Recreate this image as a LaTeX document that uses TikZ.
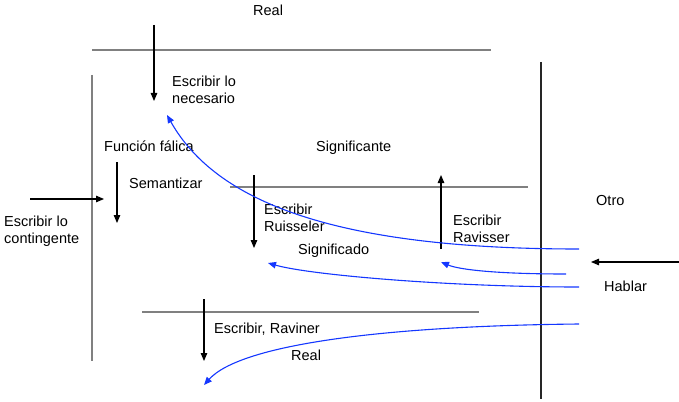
\documentclass[tikz,border=0pt]{standalone}
\usepackage{fontspec}
\setmainfont{Liberation Sans}
\usetikzlibrary{arrows.meta}
\definecolor{rule}{RGB}{128,128,128}
\definecolor{flow}{RGB}{20,55,255}
\tikzset{
  lbl/.style={anchor=base west, inner sep=0pt, font=\fontsize{14.5}{17}\selectfont, align=left},
  barline/.style={draw=rule, line width=1.5pt},
  axis/.style={draw=black!85, line width=1.1pt},
  push/.style={draw=black, line width=1.1pt, -{Triangle[length=8pt,width=6.5pt]}},
  ret/.style={draw=flow, line width=1.1pt, -{Triangle[length=8pt,width=6.5pt]}}
}
\begin{document}
\begin{tikzpicture}[x=1pt,y=-1pt]
\useasboundingbox (0,0) rectangle (679,401);

% labels (two-line labels are placed by the baseline of their last line)
\node[lbl] (realtop) at (253,16) {Real};
\node[lbl] (necesario) at (172,103) {Escribir lo\\necesario};
\node[lbl] (falica) at (104,151) {Función fálica};
\node[lbl] (signante) at (316,151) {Significante};
\node[lbl] (semant) at (129,188) {Semantizar};
\node[lbl] (conting) at (4,243) {Escribir lo\\contingente};
\node[lbl] (ruiss) at (264,231) {Escribir\\Ruisseler};
\node[lbl] (signado) at (298,254) {Significado};
\node[lbl] (raviss) at (453,242) {Escribir\\Ravisser};
\node[lbl] (otro) at (596,205) {Otro};
\node[lbl] (hablar) at (604,291) {Hablar};
\node[lbl] (ravin) at (214,333) {Escribir, Raviner};
\node[lbl] (realbot) at (291,360) {Real};

% frame lines
\coordinate (t1) at (92,50);  \coordinate (t2) at (491,50);
\coordinate (l1) at (92,75);  \coordinate (l2) at (92,361);
\coordinate (m1) at (230,187); \coordinate (m2) at (528,187);
\coordinate (b1) at (142,312); \coordinate (b2) at (479,312);
\coordinate (r1) at (541,62); \coordinate (r2) at (541,399);
\draw[barline] (t1) -- (t2);
\draw[barline] (l1) -- (l2);
\draw[barline] (m1) -- (m2);
\draw[barline] (b1) -- (b2);
\draw[axis] (r1) -- (r2);

% straight arrows
\coordinate (a1s) at (154,25);  \coordinate (a1e) at (154,101);
\coordinate (a2s) at (117,162); \coordinate (a2e) at (117,223);
\coordinate (a3s) at (30,199);  \coordinate (a3e) at (104,199);
\coordinate (a4s) at (254,175); \coordinate (a4e) at (254,248);
\coordinate (a5s) at (441,249); \coordinate (a5e) at (441,175);
\coordinate (a6s) at (679,262); \coordinate (a6e) at (591,262);
\coordinate (a7s) at (204,299); \coordinate (a7e) at (204,361);
\draw[push] (a1s) -- (a1e);
\draw[push] (a2s) -- (a2e);
\draw[push] (a3s) -- (a3e);
\draw[push] (a4s) -- (a4e);
\draw[push] (a5s) -- (a5e);
\draw[push] (a6s) -- (a6e);
\draw[push] (a7s) -- (a7e);

% returning curves
\coordinate (c1s) at (579,249); \coordinate (c1e) at (167,115);
\coordinate (c2s) at (566,274); \coordinate (c2e) at (441,262);
\coordinate (c3s) at (579,287); \coordinate (c3e) at (268,263);
\coordinate (c4s) at (579,324); \coordinate (c4e) at (204,385);
\draw[ret] (c1s) .. controls (330,249) and (215,200) .. (c1e);
\draw[ret] (c2s) .. controls (500,274) and (460,270) .. (c2e);
\draw[ret] (c3s) .. controls (450,287) and (310,275) .. (c3e);
\draw[ret] (c4s) .. controls (380,326) and (240,345) .. (c4e);
\end{tikzpicture}
\end{document}
